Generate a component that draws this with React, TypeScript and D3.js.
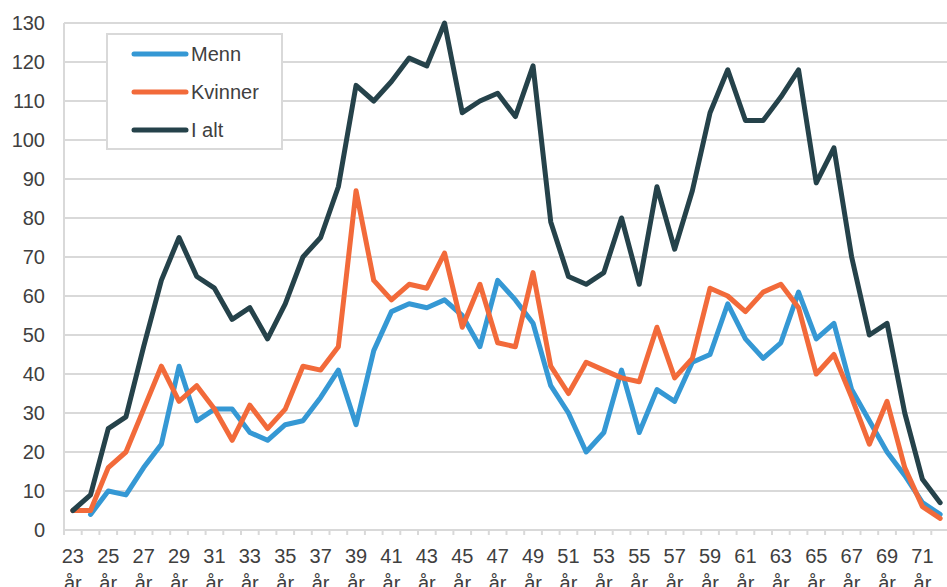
import React from 'react';
import * as d3 from 'd3';

// ages 23..72
const ages = d3.range(23, 73);

const menn = [null, 4, 10, 9, 16, 22, 42, 28, 31, 31, 25, 23, 27, 28, 34, 41, 27, 46, 56, 58, 57, 59, 55, 47, 64, 59, 53, 37, 30, 20, 25, 41, 25, 36, 33, 43, 45, 58, 49, 44, 48, 61, 49, 53, 36, 28, 20, 14, 7, 4];
const kvinner = [5, 5, 16, 20, 31, 42, 33, 37, 31, 23, 32, 26, 31, 42, 41, 47, 87, 64, 59, 63, 62, 71, 52, 63, 48, 47, 66, 42, 35, 43, 41, 39, 38, 52, 39, 44, 62, 60, 56, 61, 63, 57, 40, 45, 34, 22, 33, 16, 6, 3];
const iAlt = [5, 9, 26, 29, 47, 64, 75, 65, 62, 54, 57, 49, 58, 70, 75, 88, 114, 110, 115, 121, 119, 130, 107, 110, 112, 106, 119, 79, 65, 63, 66, 80, 63, 88, 72, 87, 107, 118, 105, 105, 111, 118, 89, 98, 70, 50, 53, 30, 13, 7];

const yTicks = d3.range(0, 131, 10);

const seriesList = [
  { name: 'Menn', values: menn, color: '#3598d4' },
  { name: 'Kvinner', values: kvinner, color: '#f26a3a' },
  { name: 'I alt', values: iAlt, color: '#25424a' },
];

const App = () => {
  const width = 947;
  const height = 587;
  const margin = { top: 23, left: 64, bottom: 57, right: -2 };

  const x = d3.scaleBand<number>()
    .domain(ages)
    .range([margin.left, width - margin.right])
    .padding(0);
  const y = d3.scaleLinear().domain([0, 130]).range([height - margin.bottom, margin.top]);

  const cx = (a: number) => (x(a) as number) + x.bandwidth() / 2;

  const line = d3.line<number | null>()
    .defined(d => d !== null)
    .x((_, i) => cx(ages[i]))
    .y(d => y(d as number));

  const grid = '#d9d9d9';
  const textColor = '#404040';
  const font = '"Liberation Sans", Arial, sans-serif';
  const y0 = y(0);

  return (
    <svg width={width} height={height} style={{ position: 'absolute', left: 0, top: 0 }} fontFamily={font}>
      {/* gridlines */}
      {yTicks.filter(t => t > 0).map(t => (
        <line key={t} x1={margin.left} x2={width} y1={y(t)} y2={y(t)} stroke={grid} strokeWidth={2} />
      ))}
      {/* axes */}
      <line x1={margin.left} x2={margin.left} y1={margin.top} y2={y0} stroke={grid} strokeWidth={2} />
      <line x1={margin.left} x2={width} y1={y0} y2={y0} stroke={grid} strokeWidth={2} />
      {ages.map(a => (
        <line key={a} x1={x(a) as number} x2={x(a) as number} y1={y0} y2={y0 + 5} stroke={grid} strokeWidth={2} />
      ))}
      {/* y labels */}
      {yTicks.map(t => (
        <text key={t} x={45} y={y(t)} dy="0.35em" textAnchor="end" fontSize={20} fill={textColor}>{t}</text>
      ))}
      {/* x labels */}
      {ages.filter(a => a % 2 === 1).map(a => (
        <text key={a} x={cx(a)} y={563} textAnchor="middle" fontSize={20} fill={textColor}>
          <tspan x={cx(a)}>{a}</tspan>
          <tspan x={cx(a)} dy={27}>år</tspan>
        </text>
      ))}
      {/* lines */}
      {seriesList.map(s => (
        <path key={s.name} d={line(s.values) || ''} fill="none" stroke={s.color} strokeWidth={5} strokeLinejoin="round" strokeLinecap="round" />
      ))}
      {/* legend */}
      <g>
        <rect x={107} y={34} width={175} height={115} fill="#fff" stroke={grid} strokeWidth={2} />
        {seriesList.map((s, i) => (
          <g key={s.name} transform={`translate(0, ${54 + i * 38})`}>
            <line x1={134} x2={186} y1={0} y2={0} stroke={s.color} strokeWidth={5} strokeLinecap="round" />
            <text x={191} y={0} dy="0.35em" fontSize={20} fill={textColor}>{s.name}</text>
          </g>
        ))}
      </g>
    </svg>
  );
};

export default App;
